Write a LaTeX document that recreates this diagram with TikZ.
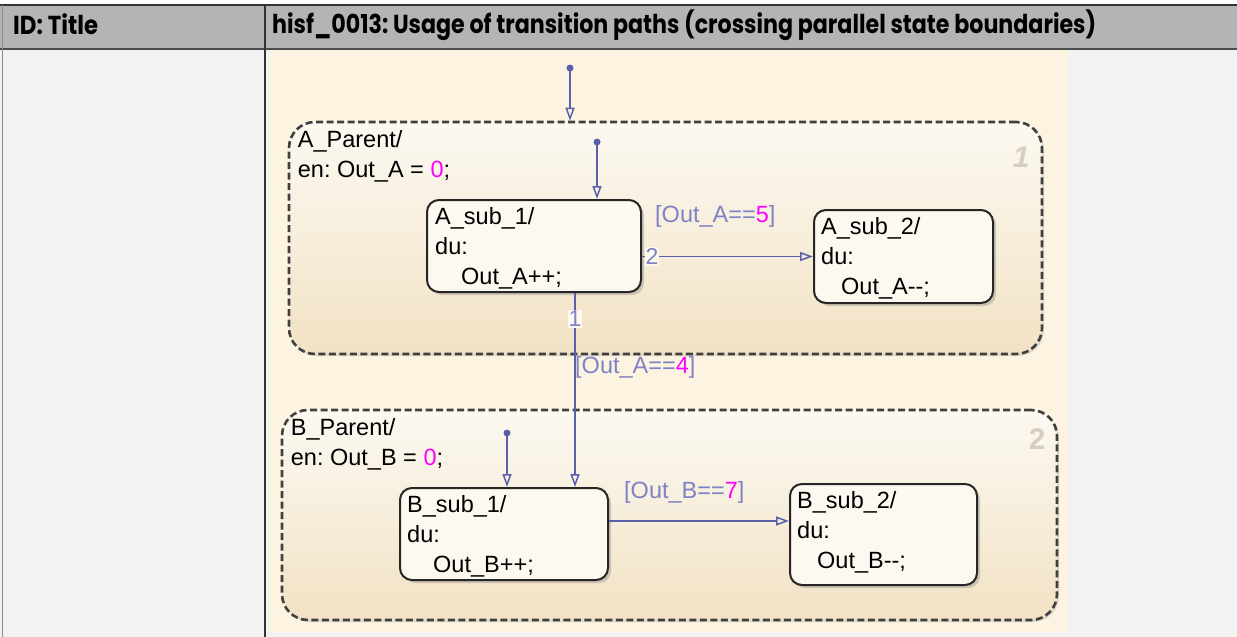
\documentclass[tikz,border=0pt]{standalone}
\usepackage{fontspec}
\setmainfont{Liberation Sans}
\newfontfamily\headfont{Poppins Bold}
\usetikzlibrary{arrows.meta,shadows,positioning}
\frenchspacing

\definecolor{headgray}{HTML}{B4B4B4}
\definecolor{bodygray}{HTML}{F2F2F2}
\definecolor{chartbg}{HTML}{FDF3E1}
\definecolor{parenttop}{HTML}{FCF9F2}
\definecolor{parentbot}{HTML}{F2E2C4}
\definecolor{subfill}{HTML}{FDF9F1}
\definecolor{transblue}{HTML}{5B60AC}
\definecolor{labelblue}{HTML}{7E83C6}
\definecolor{constpink}{HTML}{FF00FF}
\definecolor{ordergray}{HTML}{D8CEBD}

\tikzset{
  parentstate/.style={draw=black!75,line width=2.6pt,dash pattern=on 7pt off 3.5pt,
    rounded corners=26pt,top color=parenttop,bottom color=parentbot,
    drop shadow={shadow xshift=2pt,shadow yshift=-2pt,opacity=0.25}},
  substate/.style={draw=black!85,line width=2pt,rounded corners=12pt,fill=subfill,
    drop shadow={shadow xshift=3pt,shadow yshift=-3pt,opacity=0.35}},
  statetext/.style={anchor=north west,inner sep=0pt,align=left,
    font=\fontsize{23.5}{30}\selectfont},
  trans/.style={draw=transblue,line width=1.5pt,-{Triangle[open,length=13pt,width=9pt,line width=1.5pt]}},
  guard/.style={anchor=west,inner sep=0pt,text=labelblue,font=\fontsize{23.5}{30}\selectfont},
  order/.style={inner sep=1pt,fill=subfill,text=labelblue,font=\fontsize{23}{26}\selectfont},
  initdot/.style={circle,fill=transblue,inner sep=0pt,minimum size=7pt},
  headtext/.style={anchor=base west,inner sep=0pt,font=\headfont\fontsize{26}{28}\selectfont}
}

\begin{document}
\begin{tikzpicture}[x=1pt,y=-1pt]
\useasboundingbox (0,0) rectangle (1237,637);

% table
\fill[bodygray] (0,5) rectangle (1237,637);
\fill[headgray] (0,5) rectangle (1237,49);
\fill[chartbg] (270,50) rectangle (1068,632);
\draw[black!80,line width=1.5pt] (0,5) -- (1237,5);
\draw[black!70,line width=1.2pt] (0,49) -- (1237,49);
\draw[black!45,line width=1pt] (2,5) -- (2,637);
\draw[black!80,line width=1.2pt] (265,5) -- (265,637);
\node[headtext] at (13,34) (idtitle){\resizebox{85pt}{\height}{ID: Title}};
\node[headtext] at (272,34) (rulename){\resizebox{824pt}{\height}{hisf\_0013: Usage of transition paths (crossing parallel state boundaries)}};

% parallel states
\node[parentstate,minimum width=753pt,minimum height=232pt] at (665.5,238) (parentA){};
\node[parentstate,minimum width=775pt,minimum height=210pt] at (669.5,515) (parentB){};
\node[text=ordergray,font=\fontsize{30}{30}\selectfont\bfseries\itshape] at ([xshift=-22pt,yshift=-36pt]parentA.north east){1};
\node[text=ordergray,font=\fontsize{30}{30}\selectfont\bfseries] at ([xshift=-21pt,yshift=-30pt]parentB.north east){2};
\node[statetext] at ([xshift=10pt,yshift=-10pt]parentA.north west){A\_Parent/\\en: Out\_A = \textcolor{constpink}{0};};
\node[statetext] at ([xshift=10pt,yshift=-10pt]parentB.north west){B\_Parent/\\en: Out\_B = \textcolor{constpink}{0};};

% substates
\node[substate,minimum width=214pt,minimum height=92pt] at (534,246) (subA1){};
\node[substate,minimum width=179pt,minimum height=93pt] at (903.5,256.5) (subA2){};
\node[substate,minimum width=208pt,minimum height=92pt] at (504,534) (subB1){};
\node[substate,minimum width=187pt,minimum height=101pt] at (883.5,534.5) (subB2){};
\node[statetext] at ([xshift=9pt,yshift=-8pt]subA1.north west){A\_sub\_1/\\du:\\\hspace*{26pt}Out\_A++;};
\node[statetext] at ([xshift=8pt,yshift=-8pt]subA2.north west){A\_sub\_2/\\du:\\\hspace*{20pt}Out\_A-{}-;};
\node[statetext] at ([xshift=8pt,yshift=-8pt]subB1.north west){B\_sub\_1/\\du:\\\hspace*{26pt}Out\_B++;};
\node[statetext] at ([xshift=8pt,yshift=-8pt]subB2.north west){B\_sub\_2/\\du:\\\hspace*{20pt}Out\_B-{}-;};

% default transitions
\node[initdot] at (570,68) (initA){};
\node[initdot] at (597,142) (initA1){};
\node[initdot] at (507,433) (initB1){};
\draw[trans] (initA.center) -- (initA |- parentA.north);
\draw[trans] (initA1.center) -- (initA1 |- subA1.north);
\draw[trans] (initB1.center) -- (initB1 |- subB1.north);

% transitions
\draw[trans] ([xshift=41pt]subA1.south) -- ([xshift=71pt]subB1.north);
\draw[trans] (subA1.east |- subA2.west) -- (subA2.west);
\draw[trans] ([yshift=13pt]subB1.east) -- ([yshift=13pt]subB1.east -| subB2.west);
\node[order] at ([xshift=41pt,yshift=-26pt]subA1.south) (ord1){1};
\node[order] at ([xshift=10pt]subA1.east |- subA2.west) (ord2){2};
\node[guard] at (655,216) (guardA5){[Out\_A==\textcolor{constpink}{5}]};
\node[guard] at (575,367) (guardA4){[Out\_A==\textcolor{constpink}{4}]};
\node[guard] at (624,492) (guardB7){[Out\_B==\textcolor{constpink}{7}]};

\end{tikzpicture}
\end{document}
